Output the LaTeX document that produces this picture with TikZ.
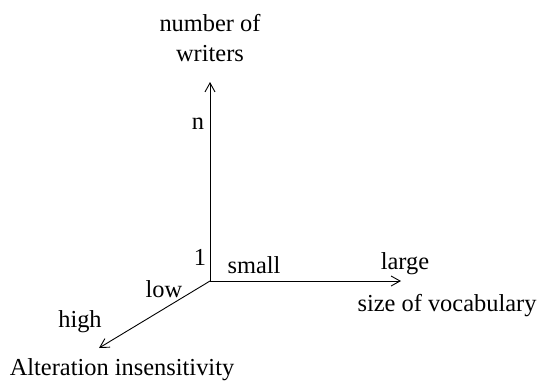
\documentclass[tikz,border=0pt]{standalone}
\usepackage{fontspec}
\setmainfont{Liberation Serif}
\usetikzlibrary{arrows.meta}
\begin{document}
\begin{tikzpicture}[x=1bp,y=-1bp,
  axis/.style={line width=0.9bp,-{Straight Barb[length=9bp,width=10bp,line width=0.9bp]}},
  lbl/.style={inner sep=0pt,font=\fontsize{24.5}{30}\selectfont}]
\useasboundingbox (0,0) rectangle (538,385);
\coordinate (o) at (210,281);
\coordinate (ny) at (210,82);
\coordinate (nx) at (401,281);
\coordinate (nz) at (99,348);
\draw[axis] (o) -- (ny);
\draw[axis] (o) -- (nx);
\draw[axis] (o) -- (nz);
\node[lbl,align=center] (tw) at (210,38) {number of\\writers};
\node[lbl] (tn) at (198,124) {n};
\node[lbl] (t1) at (200,257) {1};
\node[lbl] (ts) at (254,265) {small};
\node[lbl] (tl) at (405,264) {large};
\node[lbl] (tv) at (447,306) {size of vocabulary};
\node[lbl] (tlo) at (164,289) {low};
\node[lbl] (th) at (80,322) {high};
\node[lbl] (ta) at (122,370) {Alteration insensitivity};
\end{tikzpicture}
\end{document}
